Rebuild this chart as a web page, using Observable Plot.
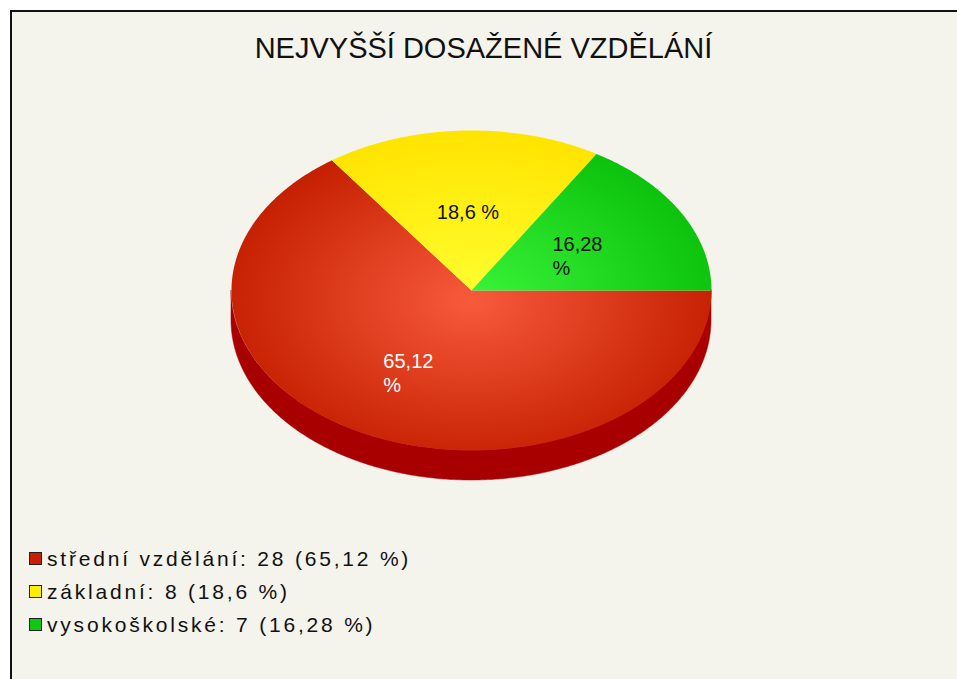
<!DOCTYPE html>
<html><head><meta charset="utf-8">
<script src="https://cdn.jsdelivr.net/npm/d3@7"></script>
<script src="https://cdn.jsdelivr.net/npm/@observablehq/plot@0.6"></script>
<style>
body{margin:0;background:#fff;}
#wrap{position:relative;width:957px;height:679px;overflow:hidden;font-family:"Liberation Sans",Arial,sans-serif;}
#panel{position:absolute;left:10px;top:10px;width:947px;height:669px;background:#f4f3ec;border-top:2px solid #111;border-left:2px solid #111;box-sizing:border-box;}
#title{position:absolute;left:10px;width:947px;top:31px;text-align:center;font-size:29px;color:#111;line-height:34px;}
#chart{position:absolute;left:0;top:0;}
#legend{position:absolute;left:29px;top:542px;font-size:21px;color:#111;letter-spacing:2.8px;}
.row{display:flex;align-items:center;height:33px;white-space:nowrap;}
.sw{width:11px;height:11px;border:1px solid #222;margin-right:5px;flex:none;}
</style></head>
<body>
<div id="wrap">
  <div id="panel"></div>
  <div id="title"></div>
  <div id="chart"></div>
  <div id="legend"></div>
</div>
<script>
// ---- data ----
const title = "NEJVYŠŠÍ DOSAŽENÉ VZDĚLÁNÍ";
const categories = ["střední vzdělání", "základní", "vysokoškolské"];
const counts = [28, 8, 7];
const pieLabels = ["65,12\n%", "18,6 %", "16,28\n%"];
const legendPercents = ["65,12 %", "18,6 %", "16,28 %"];
const legendColors = ["#c82000", "#ffee00", "#11c811"];
const gradientStops = [["#f85a3c", "#c41f00"], ["#ffff30", "#ffe400"], ["#3af53a", "#0cc20c"]];
const labelColors = ["#ffffff", "#111111", "#111111"];
const sideColor = "#a80000";

// ---- geometry derived from values ----
const total = d3.sum(counts);
const depth = 0.1875;      // extrusion in y units
const labelR = 0.53;
let start = 0;
const slices = counts.map((c, i) => {
  const span = c / total * 360;
  const s = {i, name: categories[i], a0: start, a1: start - span};
  start -= span;
  return s;
});
const rad = a => a * Math.PI / 180;
const facePts = [];
const sidePts = [];
const labelPts = [];
for (const s of slices) {
  facePts.push({name: s.name, x: 0, y: 0});
  const n = Math.max(2, Math.ceil((s.a0 - s.a1) / 0.5));
  for (let k = 0; k <= n; k++) {
    const a = s.a0 + (s.a1 - s.a0) * k / n;
    facePts.push({name: s.name, x: Math.cos(rad(a)), y: Math.sin(rad(a))});
  }
  facePts.push({name: s.name, x: 0, y: 0});
  // visible side: lower half (-180..0)
  const lo = Math.max(s.a1, -180), hi = Math.min(s.a0, 0);
  if (hi > lo) {
    const m = Math.ceil((hi - lo) / 0.5);
    for (let k = 0; k <= m; k++) {
      const a = hi - (hi - lo) * k / m;
      const y = Math.sin(rad(a));
      sidePts.push({name: s.name, x: Math.cos(rad(a)), y1: y, y2: y - depth});
    }
  }
  const mid = rad((s.a0 + s.a1) / 2);
  labelPts.push({i: s.i, x: labelR * Math.cos(mid), y: labelR * Math.sin(mid), text: pieLabels[s.i]});
}

// ---- gradients (positioned from the scales) ----
const defsMark = (index, scales) => {
  const g = d3.create("svg:defs");
  const cx = scales.x(0), cy = scales.y(-0.06);
  const r = (scales.x(1) - scales.x(0)) * 1.05;
  const k = (scales.y(0) - scales.y(1)) / (scales.x(1) - scales.x(0));
  gradientStops.forEach((st, i) => {
    const rg = g.append("radialGradient")
      .attr("id", "grad" + i)
      .attr("gradientUnits", "userSpaceOnUse")
      .attr("cx", cx).attr("cy", cy).attr("r", r)
      .attr("gradientTransform", `translate(${cx},${cy}) scale(1,${k}) translate(${-cx},${-cy})`);
    rg.append("stop").attr("offset", 0).attr("stop-color", st[0]);
    rg.append("stop").attr("offset", 1).attr("stop-color", st[1]);
  });
  return g.node();
};

const chart = Plot.plot({
  width: 957,
  height: 679,
  margin: 0,
  style: {background: "transparent", overflow: "visible"},
  x: {domain: [-1, 1], range: [231, 711], axis: null},
  y: {domain: [-1, 1], range: [450, 130], axis: null},
  marks: [
    defsMark,
    ...slices.map(s => Plot.areaY(sidePts.filter(d => d.name === s.name), {x: "x", y1: "y1", y2: "y2", fill: sideColor, stroke: sideColor, strokeWidth: 0.5})),
    ...slices.map(s => Plot.line(facePts.filter(d => d.name === s.name), {x: "x", y: "y", fill: `url(#grad${s.i})`, stroke: "none"})),
    Plot.text(labelPts, {x: "x", y: "y", text: "text", fill: d => labelColors[d.i], textAnchor: "start", dx: -30, dy: 6, lineAnchor: "middle", lineHeight: 1.2, fontSize: 20, fontFamily: "Liberation Sans, Arial, sans-serif"})
  ]
});
document.getElementById("chart").appendChild(chart);

document.getElementById("title").textContent = title;
const legend = d3.select("#legend");
categories.forEach((c, i) => {
  const row = legend.append("div").attr("class", "row");
  row.append("div").attr("class", "sw").style("background", legendColors[i]);
  row.append("span").text(`${c}: ${counts[i]} (${legendPercents[i]})`);
});
</script>
</body></html>
